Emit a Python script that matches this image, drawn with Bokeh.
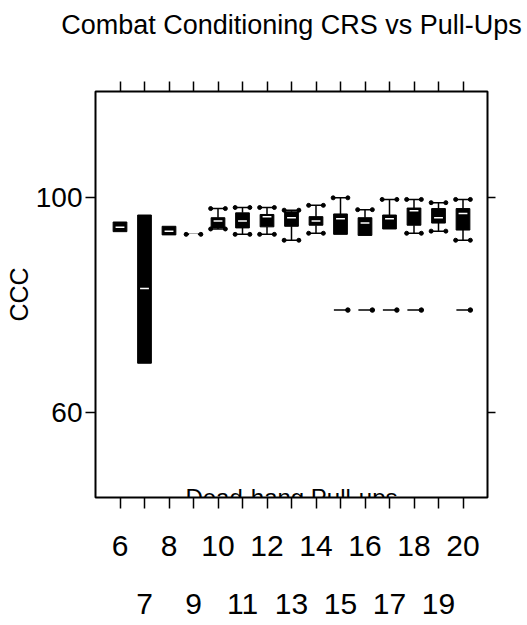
from bokeh.plotting import figure
from bokeh.models import LinearAxis, FixedTicker, Range1d, Label, ColumnDataSource
from bokeh.transform import dodge
from bokeh.embed import file_html
from bokeh.resources import INLINE

FONT = "Liberation Sans"

# ---- data ----
pullups = [6, 7, 8, 9, 10, 11, 12, 13, 14, 15, 16, 17, 18, 19, 20]
q1 =     [93.6, 69.1, 93.0, 93.1, 94.3, 94.3, 94.5, 94.6, 94.8, 93.1, 92.9, 94.1, 94.8, 95.2, 93.9]
q3 =     [95.4, 96.7, 94.6, 93.1, 96.2, 97.1, 96.8, 97.3, 96.4, 96.9, 96.2, 96.7, 98.0, 97.9, 97.9]
median = [94.4, 83.0, 93.7, 93.1, 95.6, 95.6, 96.4, 96.2, 95.6, 96.0, 95.2, 96.0, 97.5, 96.2, 97.0]
upper =  [95.4, 96.7, 94.6, 93.1, 97.9, 98.1, 98.1, 97.6, 98.5, 99.9, 97.7, 99.6, 99.6, 99.0, 99.6]
lower =  [93.6, 69.1, 93.0, 93.1, 94.1, 93.1, 93.1, 92.0, 93.3, 93.1, 92.9, 94.1, 93.3, 93.7, 92.0]
outlier_x = [15, 16, 17, 18, 20]
outlier_y = [79.0, 79.0, 79.0, 79.0, 79.0]
even_ticks = [6, 8, 10, 12, 14, 16, 18, 20]
odd_ticks = [7, 9, 11, 13, 15, 17, 19]
y_ticks = [60, 100]

title = "Combat Conditioning CRS vs Pull-Ups"
x_label = "Dead-hang Pull-ups"
y_label = "CCC"

p = figure(frame_width=392, frame_height=406, output_backend="svg", toolbar_location=None,
           x_range=Range1d(5, 21), y_range=Range1d(44.1, 119.7),
           x_axis_location=None, y_axis_location=None,
           min_border_left=95, min_border_right=36, min_border_top=91, min_border_bottom=126)
p.grid.visible = False
p.outline_line_color = "black"
p.outline_line_width = 2
p.background_fill_color = "white"
p.border_fill_color = "white"

def style_axis(ax, tick_out, label_size, standoff):
    ax.axis_line_color = None
    ax.major_tick_in = 0
    ax.major_tick_out = tick_out
    ax.major_tick_line_color = "black"
    ax.major_tick_line_width = 1.5
    ax.minor_tick_in = 0
    ax.minor_tick_out = tick_out
    ax.minor_tick_line_color = "black"
    ax.minor_tick_line_width = 1.5
    ax.major_label_text_font = FONT
    ax.major_label_text_font_size = label_size
    ax.major_label_text_color = "black"
    ax.major_label_standoff = standoff

# bottom: even labels + all ticks
b1 = LinearAxis(ticker=FixedTicker(ticks=even_ticks, minor_ticks=odd_ticks))
style_axis(b1, 11, "30px", 27)
p.add_layout(b1, "below")
# second row: odd labels
b2 = LinearAxis(ticker=FixedTicker(ticks=odd_ticks, minor_ticks=[]))
style_axis(b2, 0, "30px", 35)
b2.major_tick_line_color = None
p.add_layout(b2, "below")

# top ticks (minor ticks only -> no labels); chart title as the top label
t = LinearAxis(ticker=FixedTicker(ticks=[], minor_ticks=pullups), axis_label=title)
style_axis(t, 10, "12px", 0)
t.axis_label_text_font = FONT
t.axis_label_text_font_size = "27px"
t.axis_label_text_font_style = "normal"
t.axis_label_text_color = "black"
t.axis_label_standoff = 42
p.add_layout(t, "above")

# left
l = LinearAxis(ticker=FixedTicker(ticks=y_ticks, minor_ticks=[]), axis_label=y_label)
style_axis(l, 10, "28px", 3)
l.axis_label_text_font = FONT
l.axis_label_text_font_size = "25px"
l.axis_label_text_font_style = "normal"
l.axis_label_text_color = "black"
l.axis_label_standoff = 0
p.add_layout(l, "left")

# right (ticks only)
r = LinearAxis(ticker=FixedTicker(ticks=[], minor_ticks=y_ticks))
style_axis(r, 8, "12px", 0)
p.add_layout(r, "right")

src = ColumnDataSource(dict(x=pullups, q1=q1, q3=q3, med=median, upper=upper, lower=lower))

# whisker caps only where a whisker exists
up_idx = [i for i in range(len(pullups)) if upper[i] > q3[i] or q1[i] == q3[i]]
lo_idx = [i for i in range(len(pullups)) if lower[i] < q1[i]]
up_src = ColumnDataSource(dict(x=[pullups[i] for i in up_idx], y=[upper[i] for i in up_idx]))
lo_src = ColumnDataSource(dict(x=[pullups[i] for i in lo_idx], y=[lower[i] for i in lo_idx]))

# whiskers
p.segment(x0="x", y0="q3", x1="x", y1="upper", line_color="black", line_width=1.5, source=src)
p.segment(x0="x", y0="q1", x1="x", y1="lower", line_color="black", line_width=1.5, source=src)
# caps
for s in (up_src, lo_src):
    p.segment(x0=dodge("x", -0.3), y0="y", x1=dodge("x", 0.3), y1="y",
              line_color="black", line_width=1.5, source=s)
    p.scatter(x=dodge("x", -0.3), y="y", size=4, color="black", source=s)
    p.scatter(x=dodge("x", 0.3), y="y", size=4, color="black", source=s)
# boxes
p.vbar(x="x", width=0.56, top="q3", bottom="q1", fill_color="black",
       line_color="black", line_width=1, source=src)
# medians
p.segment(x0=dodge("x", -0.18), y0="med", x1=dodge("x", 0.18), y1="med",
          line_color="white", line_width=1.5, source=src)

# outliers
osrc = ColumnDataSource(dict(x=outlier_x, y=outlier_y))
p.segment(x0=dodge("x", -0.27), y0="y", x1=dodge("x", 0.3), y1="y",
          line_color="black", line_width=1.5, source=osrc)
p.scatter(x=dodge("x", 0.3), y="y", size=4.5, color="black", source=osrc)

# x-axis label drawn inside the frame bottom
p.add_layout(Label(x=13, y=44.1, text=x_label, text_align="center",
                   text_baseline="alphabetic", text_font=FONT,
                   text_font_size="24px", text_color="black"))

open("out.html", "w").write(file_html(p, INLINE))
